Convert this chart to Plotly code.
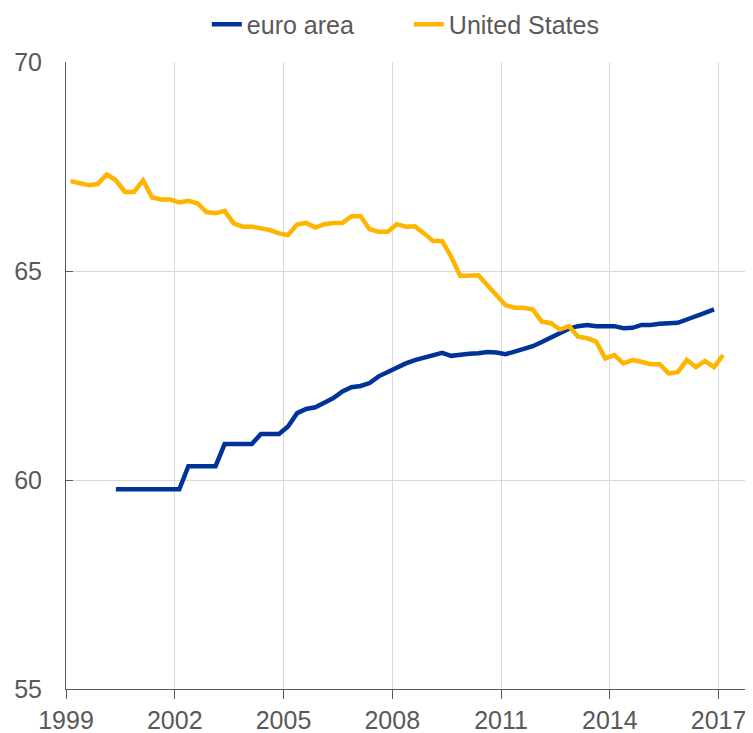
import plotly.graph_objects as go

# quarterly observations, first quarter = 1999Q1
start_year = 1999

# United States, 1999Q1 - 2017Q1
us_values = [
    67.15, 67.11, 67.05, 67.08, 67.31, 67.17, 66.89, 66.89,
    67.17, 66.76, 66.71, 66.71, 66.64, 66.68, 66.62, 66.41,
    66.38, 66.44, 66.14, 66.06, 66.06, 66.02, 65.98, 65.90,
    65.86, 66.11, 66.15, 66.04, 66.12, 66.15, 66.15, 66.31,
    66.31, 66.00, 65.94, 65.94, 66.12, 66.06, 66.07, 65.90,
    65.72, 65.72, 65.34, 64.88, 64.88, 64.90, 64.66, 64.40,
    64.18, 64.12, 64.12, 64.08, 63.79, 63.75, 63.60, 63.68,
    63.43, 63.39, 63.31, 62.91, 62.99, 62.79, 62.87, 62.83,
    62.77, 62.77, 62.55, 62.58, 62.87, 62.70, 62.85, 62.70,
    62.99,
]

# euro area, 2000Q2 - 2016Q4
ea_first_quarter = 5
ea_values = [
    59.78, 59.78, 59.78, 59.78, 59.78, 59.78, 59.78, 59.78,
    60.33, 60.33, 60.33, 60.33,
    60.86, 60.86, 60.86, 60.86,
    61.10, 61.10, 61.10,
    61.28, 61.60, 61.70, 61.74, 61.85, 61.96, 62.12, 62.22,
    62.25, 62.32, 62.48, 62.58, 62.70, 62.79, 62.87, 62.93,
    62.99, 63.04, 62.97, 63.00, 63.02, 63.03, 63.06, 63.05,
    63.01, 63.07, 63.14, 63.20, 63.30, 63.40, 63.51, 63.62,
    63.68, 63.71, 63.68, 63.68, 63.68, 63.63, 63.64, 63.71,
    63.71, 63.74, 63.75, 63.76, 63.84, 63.93, 64.00, 64.08,
]

year_ticks = [1999, 2002, 2005, 2008, 2011, 2014, 2017]
value_ticks = [55, 60, 65, 70]


def quarter_x(i):
    # middle of quarter i as a decimal year
    return start_year + i * 0.25 + 0.125


us_x = [quarter_x(i) for i in range(len(us_values))]
ea_x = [quarter_x(ea_first_quarter + i) for i in range(len(ea_values))]

grey = '#595959'

data = [
    go.Scatter(x=ea_x, y=ea_values, mode='lines', name='euro area',
               line=dict(color='#003399', width=4.5)),
    go.Scatter(x=us_x, y=us_values, mode='lines', name='United States',
               line=dict(color='#FFB400', width=4.5)),
]

# the page adds an 8px body margin, so the figure is a bit smaller than the window
layout = go.Layout(
    width=745, height=725,
    margin=dict(l=58, r=0, t=54, b=44, autoexpand=False),
    paper_bgcolor='white', plot_bgcolor='white',
    font=dict(family='Liberation Sans, Arial, sans-serif', size=25, color=grey),
    showlegend=True,
    legend=dict(orientation='h', x=0.205, xanchor='left', y=1.06, yanchor='middle',
                font=dict(size=25, color=grey), itemwidth=30,
                entrywidth=157, bgcolor='rgba(0,0,0,0)'),
    xaxis=dict(range=[1999, 2017.95], tickvals=year_ticks,
               showgrid=True, gridcolor='#d9d9d9', gridwidth=1,
               showline=True, linecolor=grey, linewidth=1,
               ticks='outside', ticklen=9, tickcolor=grey,
               ticklabelstandoff=0, automargin=False, zeroline=False),
    yaxis=dict(range=[55, 70], tickvals=value_ticks,
               showgrid=True, gridcolor='#d9d9d9', gridwidth=1,
               showline=True, linecolor=grey, linewidth=1,
               ticks='inside', ticklen=7, tickcolor=grey,
               ticklabelstandoff=18, automargin=False, zeroline=False),
)

fig = go.Figure(data=data, layout=layout)
fig.write_html('out.html')
